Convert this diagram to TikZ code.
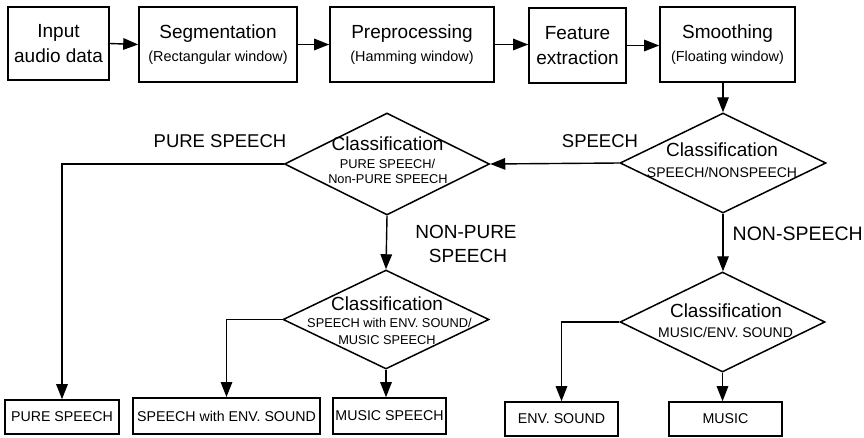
\documentclass[tikz,border=0pt]{standalone}
\usepackage{fontspec}
\setmainfont{Liberation Sans}
\usetikzlibrary{shapes.geometric,arrows.meta}
\begin{document}
\begin{tikzpicture}[x=1pt,y=-1pt,
  line width=1.4pt,
  arr/.style={-{Triangle[length=15pt,width=11.5pt]}},
  box/.style={draw,line width=1.6pt,rectangle,inner sep=0pt,align=center},
  stagebox/.style={box,font=\fontsize{19}{25.5}\selectfont},
  substagebox/.style={box,font=\fontsize{19}{23.5}\selectfont},
  leafbox/.style={box,font=\fontsize{14.2}{16}\selectfont},
  decision/.style={draw,diamond,line width=1.5pt,inner sep=0pt},
  ctitle/.style={inner sep=0pt,text height=13.6pt,text depth=0pt,font=\fontsize{19}{19}\selectfont},
  csub/.style={inner sep=0pt,text height=10pt,text depth=0pt,font=\fontsize{14}{14}\selectfont},
  csubs/.style={inner sep=0pt,text height=9.2pt,text depth=0pt,font=\fontsize{12.8}{12.8}\selectfont},
  branch/.style={inner sep=0pt,text height=13.2pt,text depth=0pt,font=\fontsize{18.5}{18.5}\selectfont}
]
\useasboundingbox (0,0) rectangle (864,437);
\newcommand{\subline}[1]{{\fontsize{14.4}{23.5}\selectfont #1}}

% processing chain
\node[stagebox,minimum width=101pt,minimum height=73pt] (inp) at (58.5,43.5) {Input\\audio data};
\node[substagebox,minimum width=158pt,minimum height=75pt] (seg) at (218,44.5) {Segmentation\\\subline{(Rectangular window)}};
\node[substagebox,minimum width=164pt,minimum height=75pt] (pre) at (412,44.5) {Preprocessing\\\subline{(Hamming window)}};
\node[stagebox,minimum width=97pt,minimum height=75pt] (feat) at (577.5,45.5) {Feature\\extraction};
\node[substagebox,minimum width=135pt,minimum height=75pt] (smo) at (727.5,44.5) {Smoothing\\\subline{(Floating window)}};

\draw[arr] (inp.east) -- (seg.west);
\draw[arr] (seg.east) -- (pre.west);
\draw[arr] (pre.east) -- (pre.east -| feat.west);
\draw[arr] (feat.east) -- (feat.east -| smo.west);

% decisions
\node[decision,minimum width=206pt,minimum height=100pt] (d1) at (723,163) {};
\node[ctitle] (d1a) at (722,150) {Classification};
\node[csub] (d1b) at (722,172) {SPEECH/NONSPEECH};

\node[decision,minimum width=205pt,minimum height=102pt] (d2) at (387,164) {};
\node[ctitle] (d2a) at (387.5,143.5) {Classification};
\node[csubs] (d2b) at (387.5,164) {PURE SPEECH/};
\node[csubs] (d2c) at (388,179) {Non-PURE SPEECH};

\node[decision,minimum width=206pt,minimum height=99pt] (d3) at (386,319.5) {};
\node[ctitle] (d3a) at (387,304) {Classification};
\node[csubs] (d3b) at (389.5,323) {SPEECH with ENV. SOUND/};
\node[csubs] (d3c) at (387,340) {MUSIC SPEECH};

\node[decision,minimum width=205pt,minimum height=100pt] (d4) at (722.5,322) {};
\node[ctitle] (d4a) at (726,311) {Classification};
\node[csub] (d4b) at (725.5,332) {MUSIC/ENV. SOUND};

% final classes
\node[leafbox,minimum width=114pt,minimum height=34pt] (pure) at (62,417) {PURE SPEECH};
\node[leafbox,line width=2pt,minimum width=187pt,minimum height=36pt] (swe) at (226.5,416) {SPEECH with ENV. SOUND};
\node[leafbox,minimum width=113pt,minimum height=36pt] (ms) at (389.5,416) {MUSIC SPEECH};
\node[leafbox,minimum width=113pt,minimum height=34pt] (env) at (561.5,419) {ENV. SOUND};
\node[leafbox,minimum width=113pt,minimum height=34pt] (mus) at (725.5,419) {MUSIC};

% decision flow
\draw[arr] (smo.south -| d1.north) -- (d1.north);
\draw[arr] (d1.west) -- (d2.east);
\draw[arr] (d2.west) -| (pure.north);
\draw[arr] (d2.south) -- (d3.north);
\draw[arr] (d3.west) -| (swe.north);
\draw[arr] (d3.south) -- (d3.south |- ms.north);
\draw[arr] (d1.south) -- (d1.south |- d4.north);
\draw[arr] (d4.west) -| (env.north);
\draw[arr] (d4.south) -- (d4.south |- mus.north);

% branch labels
\node[branch] (lpure) at (220,141) {PURE SPEECH};
\node[branch] (lsp) at (600,141) {SPEECH};
\node[branch,font=\fontsize{19}{19}\selectfont] (lnp1) at (466,231.5) {NON-PURE};
\node[branch,font=\fontsize{19}{19}\selectfont] (lnp2) at (468,256) {SPEECH};
\node[branch,font=\fontsize{19.5}{19.5}\selectfont,anchor=west] (lns) at (732,234) {NON-SPEECH};
\end{tikzpicture}
\end{document}
